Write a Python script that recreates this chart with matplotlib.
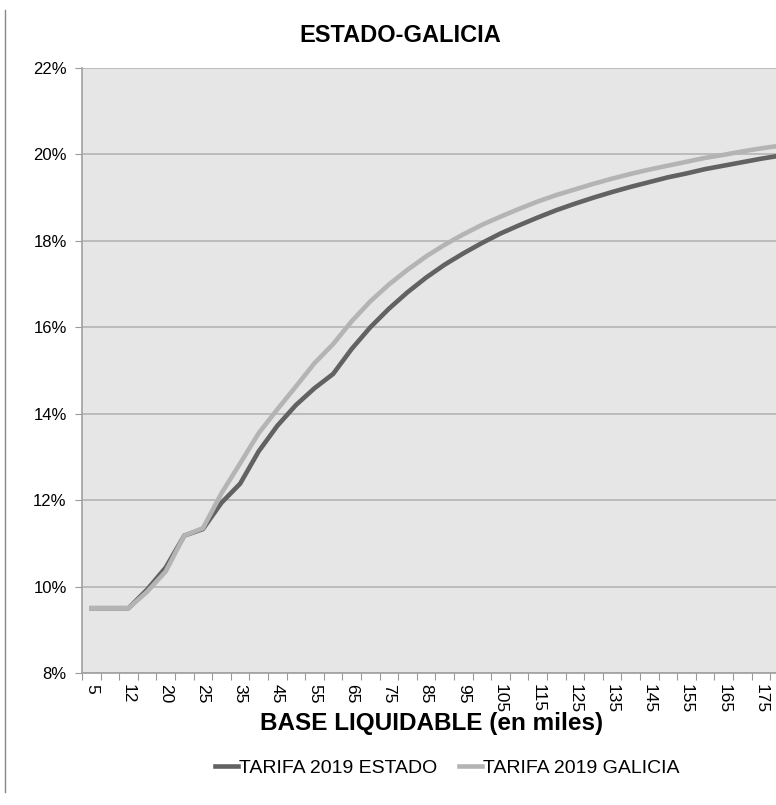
import numpy as np
import matplotlib.pyplot as plt
from matplotlib.lines import Line2D

# base liquidable (miles de euros)
base = [5, 10, 12, 15, 20, 24, 25, 30, 35, 40, 45, 50, 55, 60, 65, 70, 75, 80, 85,
        90, 95, 100, 105, 110, 115, 120, 125, 130, 135, 140, 145, 150, 155, 160,
        165, 170, 175, 180]

# tipo medio (%)
estado = [9.50, 9.50, 9.50, 9.93, 10.44, 11.18, 11.33, 11.94, 12.38, 13.13, 13.72,
          14.20, 14.59, 14.92, 15.50, 16.00, 16.43, 16.81, 17.15, 17.45, 17.71,
          17.95, 18.17, 18.36, 18.54, 18.71, 18.86, 19.00, 19.13, 19.25, 19.36,
          19.47, 19.56, 19.66, 19.74, 19.82, 19.90, 19.97]
galicia = [9.50, 9.50, 9.50, 9.88, 10.35, 11.18, 11.35, 12.16, 12.85, 13.55, 14.10,
           14.63, 15.17, 15.61, 16.14, 16.60, 16.99, 17.33, 17.64, 17.91, 18.15,
           18.37, 18.56, 18.74, 18.91, 19.06, 19.19, 19.32, 19.44, 19.55, 19.65,
           19.74, 19.83, 19.92, 19.99, 20.07, 20.14, 20.20]

plt.rcParams['font.family'] = ['Liberation Sans', 'DejaVu Sans']

W, H = 776, 805
fig = plt.figure(figsize=(W / 100, H / 100), dpi=100)
ax = fig.add_axes([82 / W, (H - 673) / H, (W - 82) / W, (673 - 68) / H])

x = np.arange(len(base))
ax.set_facecolor('#e6e6e6')
ax.plot(x, estado, color='#626262', lw=3.3, label='TARIFA 2019 ESTADO', zorder=3)
ax.plot(x, galicia, color='#b4b4b4', lw=3.3, label='TARIFA 2019 GALICIA', zorder=3)

# ancho de categoria ~18.6 px, el grafico queda cortado a la derecha
ax.set_xlim(-0.5, (W - 82) / 18.6 - 0.5)
ax.set_ylim(8, 22)

yt = np.arange(8, 23, 2)
ax.set_yticks(yt)
ax.set_yticklabels([f'{v}%' for v in yt], fontsize=12)
ax.grid(axis='y', color='#b4b4b4', lw=1.2)
ax.set_axisbelow(True)

ax.set_xticks(x - 0.5)
ax.set_xticklabels([])
ax.set_xticks(x[::2], minor=True)
ax.set_xticklabels([str(b) for b in base[::2]], minor=True, rotation=-90, fontsize=12.5)
ax.tick_params(axis='x', which='major', length=5, color='#999999')
ax.tick_params(axis='x', which='minor', length=0, pad=8)
ax.tick_params(axis='y', length=5, color='#999999', pad=6)

for s in ['top', 'right']:
    ax.spines[s].set_visible(False)
for s in ['left', 'bottom']:
    ax.spines[s].set_color('#a0a0a0')
    ax.spines[s].set_linewidth(1.2)

fig.text(400 / W, 1 - 35 / H, 'ESTADO-GALICIA', ha='center', va='center',
         fontsize=17, fontweight='bold')
fig.text(432 / W, 1 - 723 / H, 'BASE LIQUIDABLE (en miles)', ha='center', va='center',
         fontsize=17.5, fontweight='bold')

fig.legend(loc='center', bbox_to_anchor=(447 / W, 1 - 768 / H), ncol=2, frameon=False,
           fontsize=14, handlelength=1.2, handletextpad=0.05, columnspacing=1.1)

fig.add_artist(Line2D([5 / W, 5 / W], [1 - 10 / H, 1 - 792 / H], color='#888888', lw=1))

fig.savefig('out.png', dpi=100)
